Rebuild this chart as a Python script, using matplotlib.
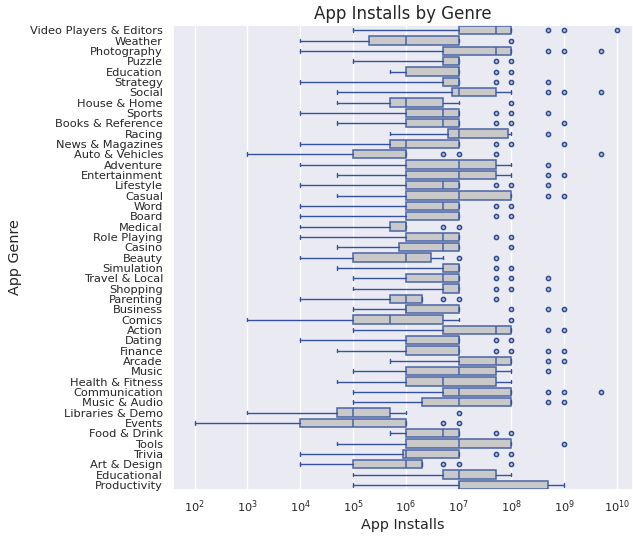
import numpy as np
import matplotlib
matplotlib.use("Agg")
import matplotlib.pyplot as plt
import seaborn as sns

genres = ["Video Players & Editors", "Weather", "Photography", "Puzzle", "Education",
          "Strategy", "Social", "House & Home", "Sports", "Books & Reference", "Racing",
          "News & Magazines", "Auto & Vehicles", "Adventure", "Entertainment", "Lifestyle",
          "Casual", "Word", "Board", "Medical", "Role Playing", "Casino", "Beauty",
          "Simulation", "Travel & Local", "Shopping", "Parenting", "Business", "Comics",
          "Action", "Dating", "Finance", "Arcade", "Music", "Health & Fitness",
          "Communication", "Music & Audio", "Libraries & Demo", "Events", "Food & Drink",
          "Tools", "Trivia", "Art & Design", "Educational", "Productivity"]

whis_lo = [1e5, 1e4, 1e4, 1e5, 5e5, 1e4, 5e4, 5e4, 1e4, 5e4, 5e5, 1e4, 1e3, 1e4, 5e4,
           1e4, 5e4, 1e4, 1e4, 1e4, 1e4, 5e4, 1e4, 5e4, 1e5, 1e5, 1e4, 1e5, 1e3, 1e5,
           1e4, 5e4, 5e5, 1e5, 5e4, 1e5, 1e5, 1e3, 1e2, 5e5, 5e4, 1e4, 1e4, 1e5, 1e5]
q1 = [1e7, 2e5, 5e6, 5e6, 1e6, 5e6, 7.5e6, 5e5, 1e6, 1e6, 6.25e6, 5e5, 1e5, 1e6, 1e6,
      1e6, 1e6, 1e6, 1e6, 5e5, 1e6, 7.5e5, 1e5, 5e6, 1e6, 5e6, 5e5, 1e6, 1e5, 5e6,
      1e6, 1e6, 1e7, 1e6, 1e6, 5e6, 2e6, 5e4, 1e4, 1e6, 1e6, 8.75e5, 1e5, 5e6, 1e7]
median = [5e7, 1e6, 5e7, 1e7, 1e7, 1e7, 1e7, 1e6, 5e6, 5e6, 1e7, 1e6, 1e6, 1e7, 1e7,
          5e6, 1e7, 5e6, 1e7, 1e6, 5e6, 5e6, 1e6, 1e7, 5e6, 1e7, 1e6, 1e6, 5e5, 5e7,
          1e7, 1e7, 5e7, 1e7, 5e6, 1e7, 1e7, 1e5, 1e5, 5e6, 1e7, 1e6, 1e6, 1e7, 1e7]
q3 = [1e8, 1e7, 1e8, 1e7, 1e7, 1e7, 5e7, 5e6, 1e7, 1e7, 8.75e7, 1e7, 1e6, 5e7, 5e7,
      1e7, 1e8, 1e7, 1e7, 1e6, 1e7, 1e7, 3e6, 1e7, 1e7, 1e7, 2e6, 1e7, 5e6, 1e8,
      1e7, 1e7, 1e8, 5e7, 5e7, 1e8, 1e8, 5e5, 1e6, 1e7, 1e8, 1e7, 2e6, 5e7, 5e8]
whis_hi = [1e8, 1e7, 1e8, 1e7, 1e7, 1e7, 1e8, 1e7, 1e7, 1e7, 1e8, 1e7, 1e6, 1e8, 1e8,
           1e7, 1e8, 1e7, 1e7, 1e6, 1e7, 1e7, 5e6, 1e7, 1e7, 1e7, 2e6, 1e7, 1e7, 1e8,
           1e7, 1e7, 1e8, 1e8, 1e8, 1e8, 1e8, 1e6, 1e6, 1e7, 1e8, 1e7, 2e6, 1e8, 1e9]
outliers = [
    [5e8, 1e9, 1e10], [1e8], [5e8, 1e9, 5e9], [5e7, 1e8], [5e7, 1e8],
    [5e7, 1e8, 5e8], [5e8, 1e9, 5e9], [1e8], [5e7, 1e8, 5e8], [5e7, 1e8, 1e9],
    [5e8], [5e7, 1e8, 1e9], [5e6, 1e7, 5e7, 5e9], [5e8], [5e8, 1e9],
    [5e7, 1e8, 5e8], [5e8, 1e9], [5e7, 1e8], [5e7, 1e8], [5e6, 1e7],
    [5e7, 1e8], [1e8], [1e7, 5e7], [5e7, 1e8], [5e7, 1e8, 5e8],
    [5e7, 1e8, 5e8], [5e6, 1e7, 5e7], [1e8, 5e8, 1e9], [1e8], [5e8, 1e9],
    [5e7, 1e8], [5e7, 1e8, 5e8, 1e9], [5e8, 1e9], [5e8], [],
    [5e8, 1e9, 5e9], [5e8, 1e9], [1e7], [5e6, 1e7], [5e7, 1e8],
    [1e9], [5e7, 1e8], [5e6, 1e7, 1e8], [], [],
]

sns.set_theme(style="darkgrid")

fig = plt.figure(figsize=(6.33, 5.37), dpi=100)
ax = fig.add_axes([0.2728, 0.0875, 0.7272, 0.8659])

stats = []
for i in range(len(genres)):
    stats.append({"med": median[i], "q1": q1[i], "q3": q3[i],
                  "whislo": whis_lo[i], "whishi": whis_hi[i],
                  "fliers": outliers[i]})

line_col = "#3552a0"
ax.bxp(stats, positions=np.arange(len(genres)), orientation="horizontal",
       widths=0.8, patch_artist=True, capwidths=0.35,
       boxprops=dict(facecolor="#c9c9c9", edgecolor="#4a64a6", linewidth=1.1),
       medianprops=dict(color="#4a64a6", linewidth=1.1),
       whiskerprops=dict(color=line_col, linewidth=1.0),
       capprops=dict(color=line_col, linewidth=1.0),
       flierprops=dict(marker="o", markersize=3.0, markerfacecolor="#c9c9c9",
                       markeredgecolor="#2c4a9a", markeredgewidth=1.1))

ax.set_xscale("log")
ax.set_xlim(10**1.587, 10**10.3)
ax.set_ylim(len(genres) - 0.5, -0.5)
ax.set_yticks(np.arange(len(genres)))
ax.set_yticklabels(genres)
ax.set_xticks([10.0**k for k in range(2, 11)])
ax.xaxis.set_minor_locator(matplotlib.ticker.NullLocator())
ax.grid(False, axis="y")
ax.tick_params(axis="both", labelsize=8.2, length=0)
ax.tick_params(axis="y", pad=7)
ax.tick_params(axis="x", pad=6)
ax.set_xlabel("App Installs", fontsize=10.4, labelpad=2)
ax.set_ylabel("App Genre", fontsize=10.4, labelpad=6)
ax.set_title("App Installs by Genre", fontsize=12, pad=4)

fig.savefig("out.png", dpi=100)
